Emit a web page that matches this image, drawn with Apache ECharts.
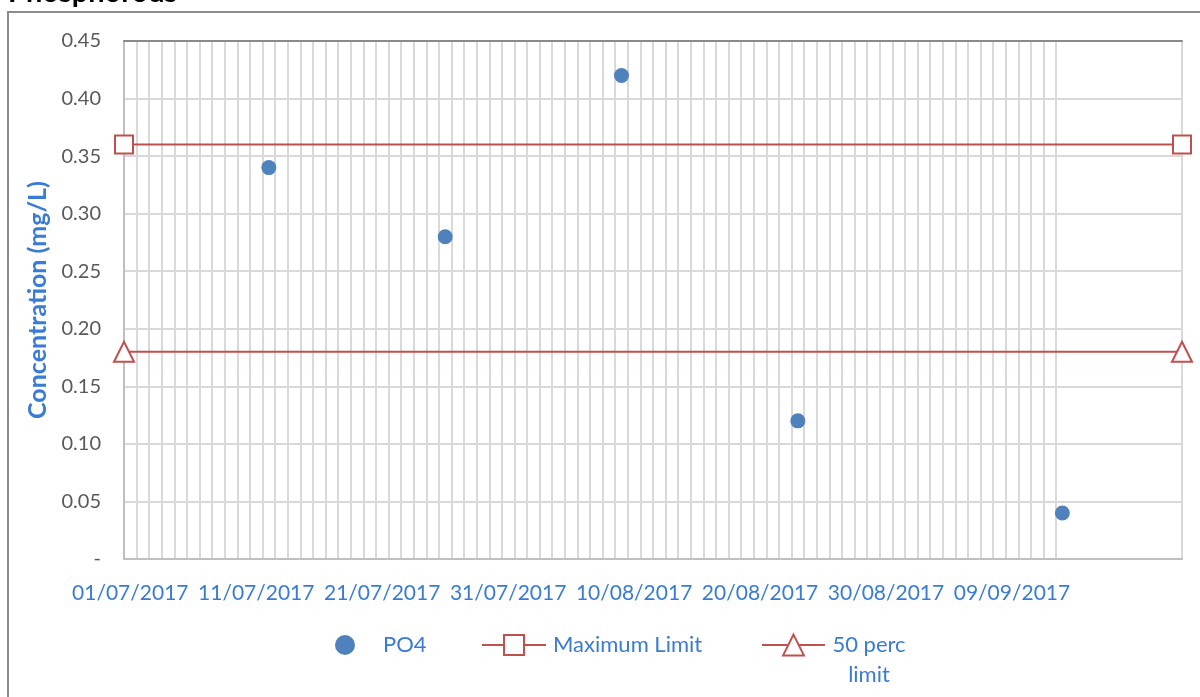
<!DOCTYPE html>
<html>
<head>
<meta charset="utf-8">
<script src="https://cdn.jsdelivr.net/npm/echarts@6/dist/echarts.min.js"></script>
<style>
  html, body { margin: 0; padding: 0; background: #ffffff; }
  #chart { width: 1200px; height: 697px; }
</style>
</head>
<body>
<div id="chart"></div>
<script>
// Phosphorous (PO4) sampling results against the discharge limits
const chartTitle = 'Phosphorous';
const axisStart = { year: 2017, month: 7, day: 1 };   // first day on the date axis
const axisDays = 84;                                   // days spanned by the plot area
const griddedDays = 74;                                // days carrying a daily grid line
const labelEvery = 10;                                 // one date label every 10 days

const sampleDates = ['12/07/2017', '26/07/2017', '09/08/2017', '23/08/2017', '13/09/2017'];
const po4 = [0.34, 0.28, 0.42, 0.12, 0.04];

const limitEnds = [0, 1];            // limit lines run across the whole plot
const maxLimit = [0.36, 0.36];
const halfLimit = [0.18, 0.18];

const yMin = 0, yMax = 0.45, yStep = 0.05;

const FONT = 'Lato';
const BLUE = '#3A7BD5';
const GREY_TEXT = '#595959';
const GRID_GREY = '#d9d9d9';
const RED = '#C0504D';
const DOT = '#4F81BD';

// plot rectangle
const plot = { left: 124, top: 41, width: 1058, height: 518 };

function two(n) { return (n < 10 ? '0' : '') + n; }
function formatDay(d) {
  return two(d.getUTCDate()) + '/' + two(d.getUTCMonth() + 1) + '/' + d.getUTCFullYear();
}
const dayCategories = [];
for (let i = 0; i < axisDays; i++) {
  dayCategories.push(formatDay(new Date(Date.UTC(axisStart.year, axisStart.month - 1, axisStart.day + i))));
}

const chart = echarts.init(document.getElementById('chart'), null, { renderer: 'canvas' });

const hiddenAxisParts = {
  axisLine: { show: false },
  axisTick: { show: false },
  axisLabel: { show: false },
  splitLine: { show: false }
};

chart.setOption({
  animation: false,
  backgroundColor: '#ffffff',
  textStyle: { fontFamily: FONT },
  title: {
    text: chartTitle,
    left: 8,
    top: -22,
    padding: 0,
    textStyle: { fontFamily: FONT, fontSize: 29, fontWeight: 'bold', color: '#000000', lineHeight: 29 }
  },
  graphic: [{
    type: 'rect',
    z: -10,
    shape: { x: 8, y: 12, width: 1300, height: 800 },
    style: { fill: 'none', stroke: '#8c8c8c', lineWidth: 2 }
  }],
  grid: [
    { left: plot.left, top: plot.top, width: plot.width, height: plot.height, containLabel: false },
    { left: plot.left, top: plot.top, width: plot.width * griddedDays / axisDays, height: plot.height, containLabel: false }
  ],
  xAxis: [
    {
      gridIndex: 0,
      type: 'category',
      data: dayCategories,
      boundaryGap: true,
      axisLine: { show: true, onZero: false, lineStyle: { color: '#bfbfbf', width: 2 } },
      axisTick: { show: false },
      axisLabel: {
        interval: (i) => i % labelEvery === 0 && i < griddedDays,
        color: BLUE, fontFamily: FONT, fontSize: 21, margin: 24
      },
      splitLine: { show: false }
    },
    {
      gridIndex: 0,
      type: 'value',
      position: 'top',
      min: 0, max: 1,
      axisLine: { show: true, onZero: false, lineStyle: { color: '#8a8a8a', width: 2 } },
      axisTick: { show: false },
      axisLabel: { show: false },
      splitLine: { show: false }
    },
    {
      gridIndex: 1,
      type: 'value',
      min: 0, max: griddedDays, interval: 1,
      axisLine: { show: false },
      axisTick: { show: false },
      axisLabel: { show: false },
      splitLine: { show: true, lineStyle: { color: GRID_GREY, width: 2 } }
    }
  ],
  yAxis: [
    {
      gridIndex: 0,
      type: 'value',
      min: yMin, max: yMax, interval: yStep,
      name: 'Concentration (mg/L)',
      nameLocation: 'middle',
      nameRotate: 90,
      nameGap: 72,
      nameTextStyle: { color: BLUE, fontFamily: FONT, fontSize: 25, fontWeight: 'bold' },
      axisLine: { show: true, onZero: false, lineStyle: { color: '#bfbfbf', width: 2 } },
      axisTick: { show: false },
      axisLabel: {
        color: GREY_TEXT, fontFamily: FONT, fontSize: 20, margin: 23,
        formatter: v => (Math.abs(v) < 1e-9 ? '-' : v.toFixed(2))
      },
      splitLine: { show: true, lineStyle: { color: GRID_GREY, width: 2 } }
    },
    {
      gridIndex: 0,
      type: 'value',
      position: 'right',
      min: yMin, max: yMax, interval: yStep,
      axisLine: { show: true, onZero: false, lineStyle: { color: GRID_GREY, width: 2 } },
      axisTick: { show: false },
      axisLabel: { show: false },
      splitLine: { show: false }
    },
    Object.assign({ gridIndex: 1, type: 'value', min: yMin, max: yMax }, hiddenAxisParts)
  ],
  legend: [
    {
      data: ['PO4'],
      left: 335, top: 630, padding: 0,
      itemWidth: 66, itemHeight: 20,
      selectedMode: false,
      textStyle: { color: BLUE, fontFamily: FONT, fontSize: 22, lineHeight: 30 }
    },
    {
      data: ['Maximum Limit'],
      left: 481, top: 630, padding: 0,
      itemWidth: 64, itemHeight: 25,
      selectedMode: false,
      textStyle: { color: BLUE, fontFamily: FONT, fontSize: 22, lineHeight: 30, padding: [0, 0, 0, 2] }
    },
    {
      data: ['50 perc limit'],
      left: 761, top: 600, padding: 0,
      itemWidth: 63, itemHeight: 26,
      selectedMode: false,
      formatter: () => '{c|50 perc}\n{c|limit}',
      textStyle: {
        color: BLUE, fontFamily: FONT, fontSize: 22, lineHeight: 30, padding: [30, 0, 0, 0],
        rich: { c: { width: 78, align: 'center', color: BLUE, fontFamily: FONT, fontSize: 22, lineHeight: 30 } }
      }
    }
  ],
  series: [
    {
      name: 'PO4',
      type: 'scatter',
      xAxisIndex: 0, yAxisIndex: 0,
      symbol: 'circle',
      symbolSize: 15,
      itemStyle: { color: DOT, opacity: 1 },
      data: sampleDates.map((d, i) => [d, po4[i]]),
      z: 4
    },
    {
      name: 'Maximum Limit',
      type: 'line',
      xAxisIndex: 1, yAxisIndex: 0,
      clip: false,
      symbol: 'rect',
      symbolSize: 18,
      showAllSymbol: true,
      lineStyle: { color: RED, width: 2 },
      itemStyle: { color: '#ffffff', borderColor: RED, borderWidth: 2 },
      data: limitEnds.map((x, i) => [x, maxLimit[i]]),
      z: 3
    },
    {
      name: '50 perc limit',
      type: 'line',
      xAxisIndex: 1, yAxisIndex: 0,
      clip: false,
      symbol: 'triangle',
      symbolSize: 20,
      showAllSymbol: true,
      lineStyle: { color: RED, width: 2 },
      itemStyle: { color: '#ffffff', borderColor: RED, borderWidth: 2 },
      data: limitEnds.map((x, i) => [x, halfLimit[i]]),
      z: 3
    }
  ]
});
</script>
</body>
</html>
